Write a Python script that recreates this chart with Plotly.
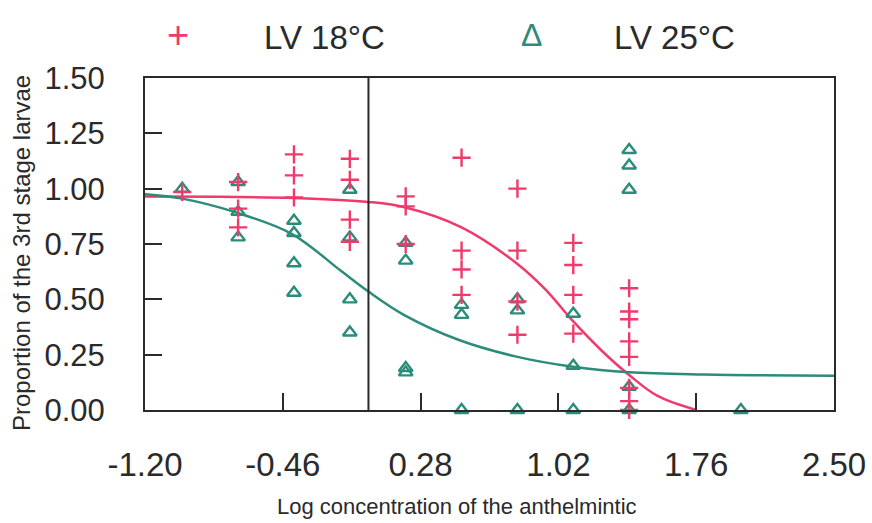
import plotly.graph_objects as go

# ---- data ----
# LV 18°C observations (log concentration, proportion)
x18 = [-1.0,
       -0.70, -0.70, -0.70,
       -0.40, -0.40, -0.40,
       -0.10, -0.10, -0.10, -0.10,
       0.20, 0.20, 0.20,
       0.50, 0.50, 0.50, 0.50,
       0.80, 0.80, 0.80, 0.80,
       1.10, 1.10, 1.10, 1.10,
       1.40, 1.40, 1.40, 1.40, 1.40, 1.40, 1.40, 1.40]
y18 = [0.985,
       1.03, 0.91, 0.825,
       1.155, 1.06, 0.96,
       1.135, 1.04, 0.86, 0.76,
       0.965, 0.92, 0.75,
       1.14, 0.72, 0.635, 0.52,
       1.0, 0.72, 0.49, 0.34,
       0.755, 0.655, 0.52, 0.345,
       0.55, 0.445, 0.41, 0.31, 0.24, 0.10, 0.04, 0.0]

# LV 25°C observations
x25 = [-1.0,
       -0.70, -0.70, -0.70,
       -0.40, -0.40, -0.40, -0.40,
       -0.10, -0.10, -0.10, -0.10,
       0.20, 0.20, 0.20, 0.20,
       0.50, 0.50, 0.50,
       0.80, 0.80, 0.80,
       1.10, 1.10, 1.10,
       1.40, 1.40, 1.40, 1.40, 1.40,
       2.0]
y25 = [1.0,
       1.03, 0.895, 0.78,
       0.855, 0.80, 0.663, 0.53,
       0.995, 0.78, 0.50, 0.35,
       0.755, 0.675, 0.19, 0.17,
       0.475, 0.43, 0.0,
       0.50, 0.45, 0.0,
       0.435, 0.20, 0.0,
       1.175, 1.105, 0.995, 0.105, 0.0,
       0.0]

# fitted curves, points
curve18_x = [-1.2, -0.8, -0.4, 0.0, 0.2, 0.5, 0.8, 0.95, 1.1, 1.25, 1.4, 1.55, 1.76]
curve18_y = [0.965, 0.963, 0.958, 0.94, 0.915, 0.825, 0.66, 0.545, 0.40, 0.27, 0.158, 0.065, 0.0]
curve25_x = [-1.2, -1.0, -0.72, -0.41, -0.15, 0.0, 0.19, 0.49, 0.8, 1.1, 1.4, 1.8, 2.5]
curve25_y = [0.975, 0.955, 0.895, 0.795, 0.63, 0.535, 0.43, 0.315, 0.24, 0.195, 0.17, 0.16, 0.155]

xtick_vals = [-1.20, -0.46, 0.28, 1.02, 1.76, 2.50]
ytick_vals = [0.00, 0.25, 0.50, 0.75, 1.00, 1.25, 1.50]

RED = "#EF3A6B"
GREEN = "#2C8C7A"
INK = "#2a2a2a"
FONT = "Liberation Sans, Arial, sans-serif"

W, H = 872, 523
L, R, T, B = 145, 38, 78, 113

fig = go.Figure()

fig.add_trace(go.Scatter(x=curve18_x, y=curve18_y, mode="lines",
                         line=dict(color=RED, width=2.5, shape="spline", smoothing=1.0),
                         showlegend=False, hoverinfo="skip"))
fig.add_trace(go.Scatter(x=curve25_x, y=curve25_y, mode="lines",
                         line=dict(color=GREEN, width=2.5, shape="spline", smoothing=1.0),
                         showlegend=False, hoverinfo="skip"))
fig.add_trace(go.Scatter(x=x25, y=y25, mode="markers", name="LV 25°C",
                         marker=dict(symbol="triangle-up-open", size=12, color=GREEN,
                                     line=dict(width=2.4, color=GREEN)),
                         showlegend=False, cliponaxis=False))
fig.add_trace(go.Scatter(x=x18, y=y18, mode="markers", name="LV 18°C",
                         marker=dict(symbol="cross-thin", size=13, color=RED,
                                     line=dict(width=2.4, color=RED)),
                         showlegend=False, cliponaxis=False))

# vertical reference line at x = 0
fig.add_shape(type="line", xref="x", yref="paper", x0=0, x1=0, y0=0, y1=1,
              line=dict(color=INK, width=2))

def px_to_paper_x(px):
    return (px - L) / (W - L - R)

def px_to_paper_y(py):
    return (H - B - py) / (H - T - B)

# legend made from text
fig.add_annotation(text="+", x=px_to_paper_x(178), y=px_to_paper_y(35), xref="paper", yref="paper",
                   showarrow=False, font=dict(family=FONT, size=38, color=RED), xanchor="center", yanchor="middle")
fig.add_annotation(text="LV 18°C", x=px_to_paper_x(262), y=px_to_paper_y(37), xref="paper", yref="paper",
                   showarrow=False, font=dict(family=FONT, size=33, color=INK), xanchor="left", yanchor="middle")
fig.add_annotation(text="Δ", x=px_to_paper_x(531), y=px_to_paper_y(35), xref="paper", yref="paper",
                   showarrow=False, font=dict(family=FONT, size=32, color=GREEN), xanchor="center", yanchor="middle")
fig.add_annotation(text="LV 25°C", x=px_to_paper_x(612), y=px_to_paper_y(37), xref="paper", yref="paper",
                   showarrow=False, font=dict(family=FONT, size=33, color=INK), xanchor="left", yanchor="middle")

# axis titles
fig.add_annotation(text="Log concentration of the anthelmintic", x=px_to_paper_x(457), y=px_to_paper_y(506),
                   xref="paper", yref="paper", showarrow=False,
                   font=dict(family=FONT, size=22, color=INK), xanchor="center", yanchor="middle")
fig.add_annotation(text="Proportion of the 3rd stage larvae", x=px_to_paper_x(21), y=px_to_paper_y(253),
                   xref="paper", yref="paper", showarrow=False, textangle=-90,
                   font=dict(family=FONT, size=24, color=INK), xanchor="center", yanchor="middle")

fig.update_layout(
    width=W, height=H,
    margin=dict(l=L, r=R, t=T, b=B),
    paper_bgcolor="white", plot_bgcolor="white",
    font=dict(family=FONT, color=INK),
    showlegend=False,
)
fig.update_xaxes(range=[-1.2, 2.5], tickvals=xtick_vals,
                 ticktext=[f"{v:.2f}" for v in xtick_vals],
                 ticks="inside", ticklen=17, tickwidth=2, tickcolor=INK,
                 showline=True, linecolor=INK, linewidth=2, mirror=True,
                 showgrid=False, zeroline=False, automargin=False,
                 tickfont=dict(family=FONT, size=33, color=INK), ticklabelstandoff=24)
fig.update_yaxes(range=[0, 1.5], tickvals=ytick_vals,
                 ticktext=[f"{v:.2f}" for v in ytick_vals],
                 ticks="inside", ticklen=17, tickwidth=2, tickcolor=INK,
                 showline=True, linecolor=INK, linewidth=2, mirror=True,
                 showgrid=False, zeroline=False, automargin=False,
                 tickfont=dict(family=FONT, size=31, color=INK), ticklabelstandoff=32)

fig.write_html("out.html")
